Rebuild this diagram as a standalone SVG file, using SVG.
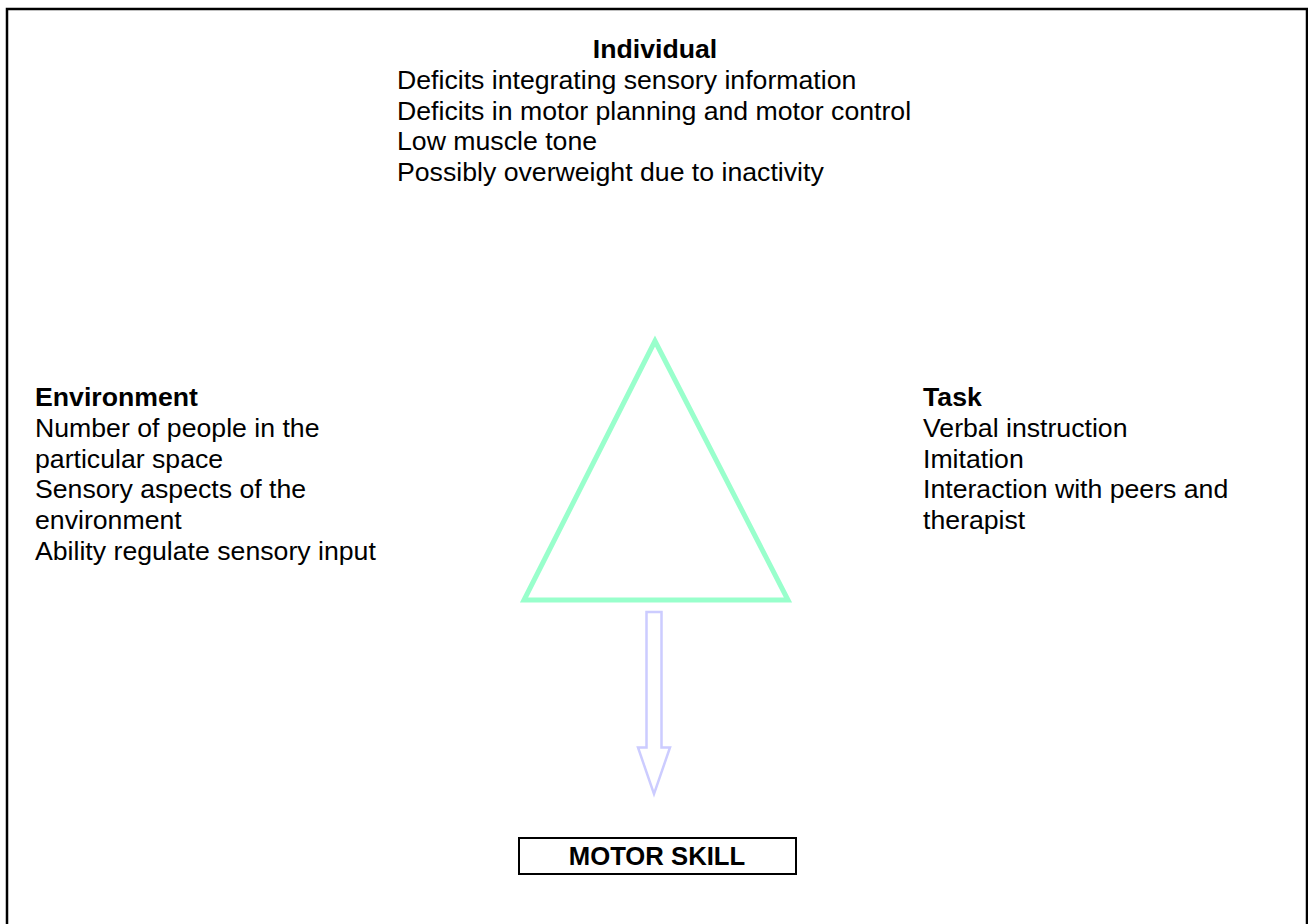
<svg xmlns="http://www.w3.org/2000/svg" width="1308" height="924" viewBox="0 0 1308 924">
<style>
text{font-family:"Liberation Sans",Arial,sans-serif;font-size:26.67px;fill:#000}
.b{font-weight:bold}
.m{text-anchor:middle}
</style>
<rect x="0" y="0" width="1308" height="924" fill="#fff"/>
<rect x="7" y="9" width="1300" height="1000" fill="none" stroke="#000" stroke-width="2.5"/>
<g id="individual">
<text class="b m" x="655" y="58">Individual</text>
<text x="397" y="89">Deficits integrating sensory information</text>
<text x="397" y="120">Deficits in motor planning and motor control</text>
<text x="397" y="150">Low muscle tone</text>
<text x="397" y="181">Possibly overweight due to inactivity</text>
</g>
<g id="environment">
<text class="b" x="35" y="406">Environment</text>
<text x="35" y="437">Number of people in the</text>
<text x="35" y="468">particular space</text>
<text x="35" y="498">Sensory aspects of the</text>
<text x="35" y="529">environment</text>
<text x="35" y="560">Ability regulate sensory input</text>
</g>
<g id="task">
<text class="b" x="923" y="406">Task</text>
<text x="923" y="437">Verbal instruction</text>
<text x="923" y="468">Imitation</text>
<text x="923" y="498">Interaction with peers and</text>
<text x="923" y="529">therapist</text>
</g>
<g id="triangle">
<polygon points="655,341 524,600 788,600" fill="none" stroke="#99FFCC" stroke-width="5"/>
</g>
<g id="connectors">
<polygon points="646.5,612 661.5,612 661.5,747.5 670,747.5 654,794 638,747.5 646.5,747.5" fill="none" stroke="#CCCCFF" stroke-width="2.5"/>
</g>
<g id="motor-skill">
<rect x="519" y="838" width="277" height="36" fill="#fff" stroke="#000" stroke-width="2"/>
<text class="b m" x="657" y="865" style="font-size:25.7px">MOTOR SKILL</text>
</g>
</svg>
